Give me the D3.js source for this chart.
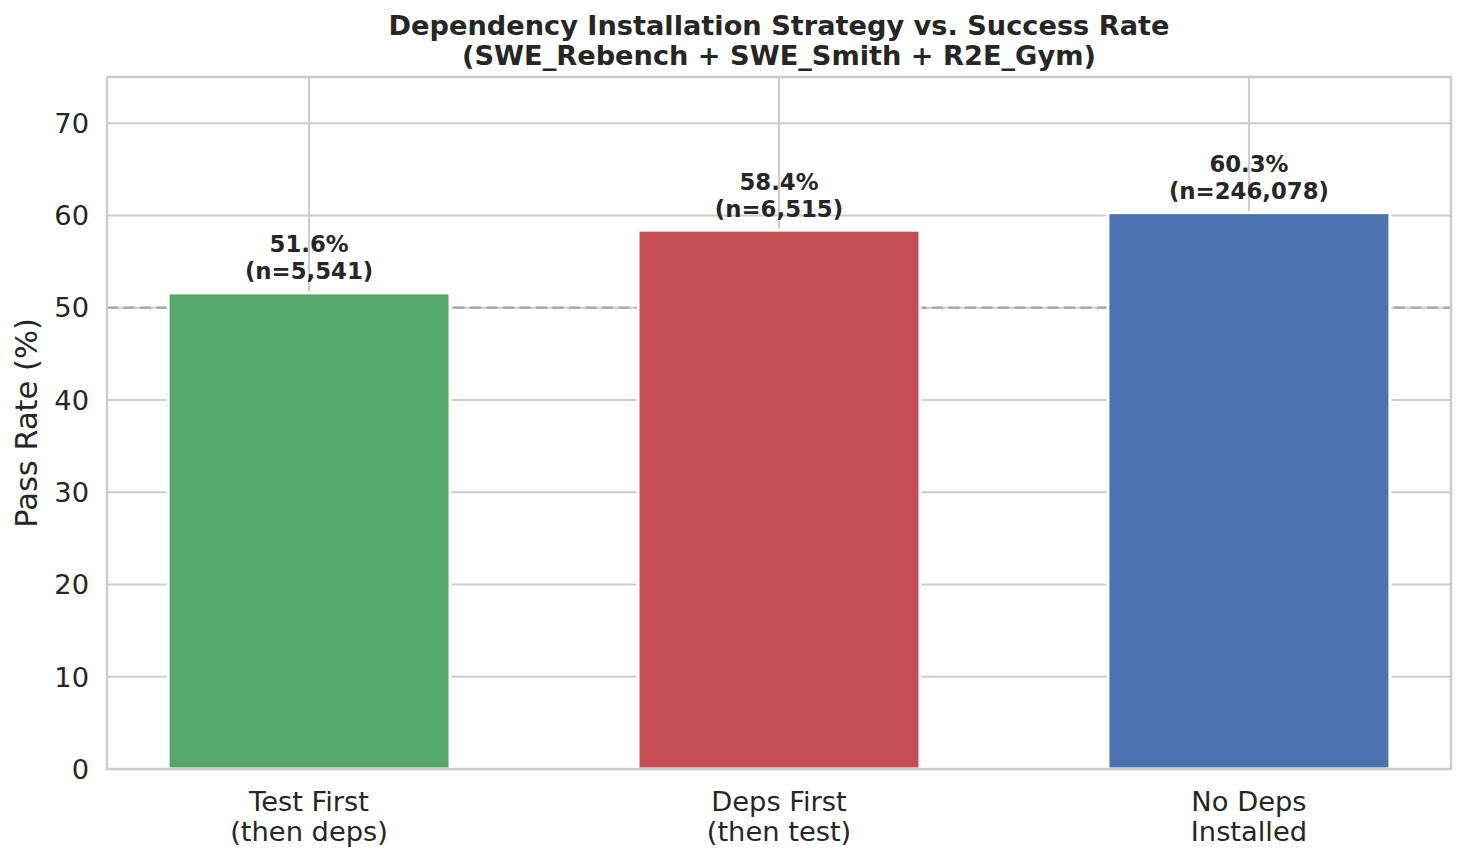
<!DOCTYPE html>
<html><head><meta charset="utf-8">
<script src="https://cdn.jsdelivr.net/npm/d3@7"></script>
<style>body{margin:0;background:#fff;} text{font-family:"DejaVu Sans",sans-serif;fill:#262626;}</style>
</head><body>
<svg id="c" width="1465" height="860"></svg>
<script>
const categories = ["Test First\n(then deps)", "Deps First\n(then test)", "No Deps\nInstalled"];
const passRates = [51.6, 58.4, 60.3];
const counts = [5541, 6515, 246078];
const colors = ["#55a868", "#c44e52", "#4c72b0"];
const yTicks = [0, 10, 20, 30, 40, 50, 60, 70];
const refLine = 50;
const titleLines = ["Dependency Installation Strategy vs. Success Rate", "(SWE_Rebench + SWE_Smith + R2E_Gym)"];

const svg = d3.select("#c");
const L = 107, R = 1451, T = 77, B = 769;
const x = d3.scaleLinear().domain([-0.43, 2.43]).range([L, R]);
const y = d3.scaleLinear().domain([0, 75]).range([B, T]);
const g = svg.append("g");

// grid
g.selectAll(".hg").data(yTicks).join("line")
  .attr("x1", L).attr("x2", R).attr("y1", d => y(d)).attr("y2", d => y(d))
  .attr("stroke", "#cccccc").attr("stroke-width", 2);
g.selectAll(".vg").data(categories).join("line")
  .attr("x1", (d, i) => x(i)).attr("x2", (d, i) => x(i)).attr("y1", T).attr("y2", B)
  .attr("stroke", "#cccccc").attr("stroke-width", 2);

// reference line
g.append("line").attr("x1", L).attr("x2", R).attr("y1", y(refLine)).attr("y2", y(refLine))
  .attr("stroke", "#a3a3a3").attr("stroke-width", 2.3).attr("stroke-dasharray", "11,5.5");

// bars
const bw = 0.6;
g.selectAll(".bar").data(passRates).join("rect")
  .attr("x", (d, i) => x(i - bw / 2)).attr("width", x(bw) - x(0))
  .attr("y", d => y(d)).attr("height", d => y(0) - y(d))
  .attr("fill", (d, i) => colors[i]).attr("stroke", "#ffffff").attr("stroke-width", 3);

// bar labels
const fmt = d3.format(",");
passRates.forEach((v, i) => {
  const t = g.append("text").attr("text-anchor", "middle").attr("font-weight", "bold")
    .attr("font-size", 22.8).attr("x", x(i));
  t.append("tspan").attr("x", x(i)).attr("y", y(v) - 40.5).text(v.toFixed(1) + "%");
  t.append("tspan").attr("x", x(i)).attr("y", y(v) - 13.5).text("(n=" + fmt(counts[i]) + ")");
});

// spines
g.append("rect").attr("x", L).attr("y", T).attr("width", R - L).attr("height", B - T)
  .attr("fill", "none").attr("stroke", "#cccccc").attr("stroke-width", 2.5);

// y ticks
g.selectAll(".yt").data(yTicks).join("text")
  .attr("x", L - 18).attr("y", d => y(d)).attr("dy", "0.36em")
  .attr("text-anchor", "end").attr("font-size", 27.3).text(d => d);

// x ticks
categories.forEach((c, i) => {
  const t = g.append("text").attr("text-anchor", "middle").attr("font-size", 27.3);
  c.split("\n").forEach((ln, j) => {
    t.append("tspan").attr("x", x(i)).attr("y", 811 + j * 30).text(ln);
  });
});

// y label
g.append("text").attr("transform", `translate(37,${(T + B) / 2}) rotate(-90)`)
  .attr("text-anchor", "middle").attr("font-size", 30.5).text("Pass Rate (%)");

// title
titleLines.forEach((ln, j) => {
  svg.append("text").attr("x", (L + R) / 2).attr("y", 35 + j * 30)
    .attr("text-anchor", "middle").attr("font-weight", "bold").attr("font-size", 27.2).text(ln);
});
</script>
</body></html>
